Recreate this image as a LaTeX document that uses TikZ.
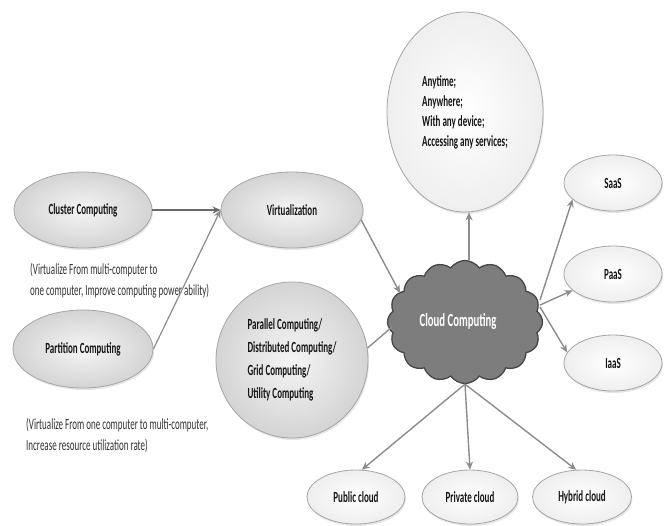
\documentclass[tikz,border=0pt]{standalone}
\usepackage{fontspec}
\setmainfont{Carlito}[FakeStretch=0.58]
\usetikzlibrary{shapes.geometric,shapes.symbols,arrows.meta,shadows}

\definecolor{edgegray}{RGB}{165,165,165}
\definecolor{arrowgray}{RGB}{140,140,140}
\definecolor{darkarrow}{RGB}{105,105,105}
\definecolor{cloudfill}{RGB}{125,125,125}
\definecolor{cloudedge}{RGB}{70,70,70}
\definecolor{inkcol}{RGB}{20,20,20}
\definecolor{notecol}{RGB}{50,50,50}

\begin{document}
\begin{tikzpicture}[x=1pt,y=-1pt,
  bubble/.style={ellipse, draw=edgegray, line width=0.8pt, inner sep=0pt,
    inner color=white, outer color=gray!13,
    drop shadow={shadow xshift=1pt, shadow yshift=-2pt, opacity=0.2, fill=gray},
    font=\fontsize{15.5}{20}\selectfont\bfseries, text=inkcol},
  greybubble/.style={bubble, inner color=gray!8, outer color=gray!34},
  smallbubble/.style={bubble, minimum width=98pt, minimum height=56pt},
  note/.style={anchor=north west, align=left, inner sep=0pt,
    font=\fontsize{15.5}{21}\selectfont, text=notecol},
  link/.style={draw=arrowgray, line width=1.4pt},
  arr/.style={link, -{Stealth[length=8pt,width=7pt]}},
]
\useasboundingbox (0,0) rectangle (668,525);

% left side: the two virtualisation sources
\node[greybubble, minimum width=138pt, minimum height=76pt] (cluster) at (83,210) {Cluster Computing};
\node[greybubble, minimum width=140pt, minimum height=78pt] (partition) at (83,349) {Partition Computing};
\node[greybubble, minimum width=142pt, minimum height=76pt] (virt) at (292,210) {Virtualization};
\node[greybubble, minimum width=152pt, minimum height=156pt, align=left,
      font=\fontsize{15.5}{23}\selectfont\bfseries] (parallel) at (292,360)
  {Parallel Computing/\\Distributed Computing/\\Grid Computing/\\Utility Computing};

\node[note] (note1) at (30,263) {(Virtualize From multi-computer to\\one computer, Improve computing power ability)};
\node[note] (note2) at (26,418) {(Virtualize From one computer to multi-computer,\\Increase resource utilization rate)};

% centre cloud
\node[cloud, cloud puffs=16, cloud puff arc=110, aspect=1.25,
      minimum width=155pt, minimum height=123pt, inner sep=0pt,
      fill=cloudfill, draw=cloudedge, line width=1.3pt,
      text=white, font=\fontsize{18.5}{20}\selectfont\bfseries] (cloud) at (465,322) {Cloud Computing\hspace*{14pt}};

% access properties
\node[bubble, minimum width=156pt, minimum height=200pt, align=left,
      font=\fontsize{15.5}{20}\selectfont\bfseries] (anytime) at (465,112)
  {Anytime;\\Anywhere;\\With any device;\\Accessing any services;};

% service models
\node[smallbubble] (saas) at (613,183) {SaaS};
\node[smallbubble] (paas) at (613,274) {PaaS};
\node[smallbubble] (iaas) at (613,363) {IaaS};

% deployment models
\node[bubble, minimum width=98pt, minimum height=54pt] (public) at (356,497) {Public cloud};
\node[bubble, minimum width=96pt, minimum height=54pt] (private) at (470,497) {Private cloud};
\node[bubble, minimum width=99pt, minimum height=54pt] (hybrid) at (582,497) {Hybrid cloud};

% connectors
\draw[arr, draw=darkarrow, line width=2.6pt] (cluster.east) -- (virt.west);
\draw[arr, line width=1.2pt] (partition.east) -- (virt.west);
\draw[arr] (virt.-8) -- ([shift={(-65,-29)}]cloud.center);
\draw[link] (parallel.9) -- ([shift={(-73,5)}]cloud.center);
\draw[arr] ([xshift=4pt]cloud.north) -- ([xshift=4pt]anytime.south);
\draw[arr] ([shift={(75,-22)}]cloud.center) -- (saas.202);
\draw[arr] ([shift={(75,-17)}]cloud.center) -- (paas.202);
\draw[arr] ([shift={(75,-15)}]cloud.center) -- (iaas.167);
\draw[arr] (cloud.south) -- (public.78);
\draw[arr] (cloud.south) -- (private.north);
\draw[arr] (cloud.south) -- (hybrid.102);
\end{tikzpicture}
\end{document}
